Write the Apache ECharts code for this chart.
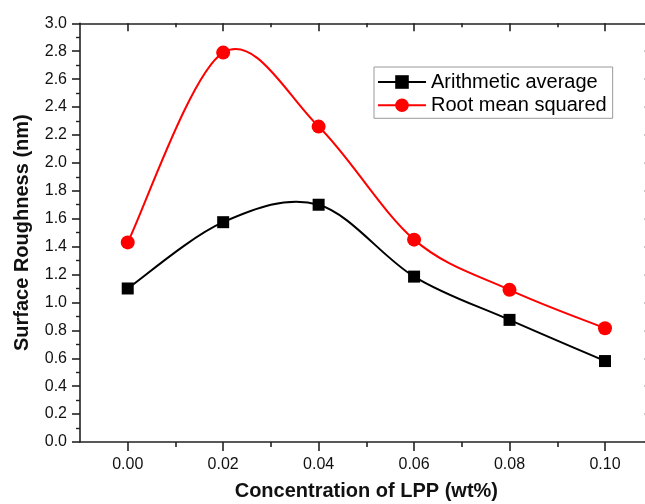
<!DOCTYPE html>
<html>
<head>
<meta charset="utf-8">
<script src="https://cdn.jsdelivr.net/npm/echarts@6/dist/echarts.min.js"></script>
<style>html,body{margin:0;padding:0;background:#fff;}#c{width:645px;height:504px;}</style>
</head>
<body>
<div id="c"></div>
<script>
var concentrations = [0.00, 0.02, 0.04, 0.06, 0.08, 0.10];
var arithmeticAverage = [1.10, 1.575, 1.70, 1.185, 0.875, 0.58];
var rootMeanSquared = [1.43, 2.79, 2.26, 1.45, 1.09, 0.815];
var xMajorTicks = [0.00, 0.02, 0.04, 0.06, 0.08, 0.10];
var xMinorTicks = [0.01, 0.03, 0.05, 0.07, 0.09];
var seriesNames = ['Arithmetic average', 'Root mean squared'];
var xTitle = 'Concentration of LPP (wt%)';
var yTitle = 'Surface Roughness (nm)';

function pairs(xs, ys){ return xs.map(function(x,i){ return [x, ys[i]]; }); }

var FONT = 'Liberation Sans, Arial, sans-serif';
var AX = '#222';
var XMIN = -0.01, XMAX = 0.11;

function xAx(pos, ticks, len, inside, showLine, showLabel, extra){
  var o = {
    type: 'value', position: pos, min: XMIN, max: XMAX,
    axisLine: {show: showLine, onZero: false, lineStyle: {color: AX, width: 1.6}},
    axisTick: {show: true, inside: inside, length: len, customValues: ticks, lineStyle: {color: AX, width: 1.6}},
    axisLabel: {show: showLabel},
    splitLine: {show: false}
  };
  if (extra) for (var k in extra) o[k] = extra[k];
  return o;
}

// smooth curve through the data points (cardinal spline), positioned via the chart's own scales
function curveRenderer(xs, ys, color){
  return function(params, api){
    if (params.dataIndex !== 0) return null;
    var p = xs.map(function(x, i){ return api.coord([x, ys[i]]); });
    var n = p.length, children = [];
    for (var i = 0; i < n - 1; i++) {
      var p0 = p[Math.max(i - 1, 0)], p1 = p[i], p2 = p[i + 1], p3 = p[Math.min(i + 2, n - 1)];
      children.push({
        type: 'bezierCurve',
        shape: {
          x1: p1[0], y1: p1[1], x2: p2[0], y2: p2[1],
          cpx1: p1[0] + (p2[0] - p0[0]) / 6, cpy1: p1[1] + (p2[1] - p0[1]) / 6,
          cpx2: p2[0] - (p3[0] - p1[0]) / 6, cpy2: p2[1] - (p3[1] - p1[1]) / 6
        },
        style: {stroke: color, lineWidth: 2, fill: 'none'}
      });
    }
    return {type: 'group', children: children};
  };
}

var chart = echarts.init(document.getElementById('c'), null, {renderer: 'canvas'});
chart.setOption({
  animation: false,
  backgroundColor: '#fff',
  grid: {left: 80, top: 23.3, width: 572.7, height: 418.7, containLabel: false, outerBoundsMode: 'none'},
  legend: {
    data: seriesNames,
    orient: 'vertical',
    left: 374, top: 67,
    padding: [4, 6, 2, 3],
    itemGap: 1.3,
    itemWidth: 48, itemHeight: 17,
    borderColor: '#999', borderWidth: 1,
    lineStyle: {opacity: 1, width: 2},
    textStyle: {fontFamily: FONT, fontSize: 20, color: '#000', lineHeight: 22}
  },
  xAxis: [
    xAx('bottom', xMajorTicks, 9, false, true, true, {
      axisLabel: {show: true, customValues: xMajorTicks, margin: 15, fontFamily: FONT, fontSize: 16, color: '#111',
        formatter: function(v){ return v.toFixed(2); }},
      name: xTitle, nameLocation: 'middle', nameGap: 39,
      nameTextStyle: {fontFamily: FONT, fontSize: 20, fontWeight: 'bold', color: '#111'}
    }),
    xAx('bottom', xMinorTicks, 5, false, false, false),
    xAx('top', xMajorTicks, 8, true, true, false),
    xAx('top', xMinorTicks, 4, true, false, false)
  ],
  yAxis: [
    {
      type: 'value', position: 'left', min: 0, max: 3, interval: 0.2,
      axisLine: {show: true, onZero: false, lineStyle: {color: AX, width: 1.6}},
      axisTick: {show: true, inside: false, length: 8, lineStyle: {color: AX, width: 1.6}},
      minorTick: {show: true, splitNumber: 2, length: 4, lineStyle: {color: AX, width: 1.4}},
      axisLabel: {margin: 13, fontFamily: FONT, fontSize: 16, color: '#111',
        formatter: function(v){ return v.toFixed(1); }},
      splitLine: {show: false},
      name: yTitle, nameLocation: 'middle', nameGap: 48,
      nameTextStyle: {fontFamily: FONT, fontSize: 20, fontWeight: 'bold', color: '#111'}
    },
    {
      type: 'value', position: 'right', min: 0, max: 3, interval: 0.2,
      axisLine: {show: true, onZero: false, lineStyle: {color: AX, width: 1.6}},
      axisTick: {show: true, inside: true, length: 8, lineStyle: {color: AX, width: 1.6}},
      minorTick: {show: true, splitNumber: 2, length: 4, lineStyle: {color: AX, width: 1.4}},
      axisLabel: {show: false},
      splitLine: {show: false}
    }
  ],
  series: [
    {
      name: 'curve-rms', type: 'custom', xAxisIndex: 0, yAxisIndex: 0, z: 1,
      data: pairs(concentrations, rootMeanSquared),
      renderItem: curveRenderer(concentrations, rootMeanSquared, '#ff0000'),
      silent: true
    },
    {
      name: 'curve-avg', type: 'custom', xAxisIndex: 0, yAxisIndex: 0, z: 1,
      data: pairs(concentrations, arithmeticAverage),
      renderItem: curveRenderer(concentrations, arithmeticAverage, '#000000'),
      silent: true
    },
    {
      name: seriesNames[0], type: 'line', xAxisIndex: 0, yAxisIndex: 0, z: 3,
      data: pairs(concentrations, arithmeticAverage),
      symbol: 'rect', symbolSize: 12,
      lineStyle: {color: '#000', width: 2, opacity: 0},
      itemStyle: {color: '#000'}
    },
    {
      name: seriesNames[1], type: 'line', xAxisIndex: 0, yAxisIndex: 0, z: 3,
      data: pairs(concentrations, rootMeanSquared),
      symbol: 'circle', symbolSize: 14,
      lineStyle: {color: '#ff0000', width: 2, opacity: 0},
      itemStyle: {color: '#ff0000'}
    }
  ]
});
</script>
</body>
</html>
